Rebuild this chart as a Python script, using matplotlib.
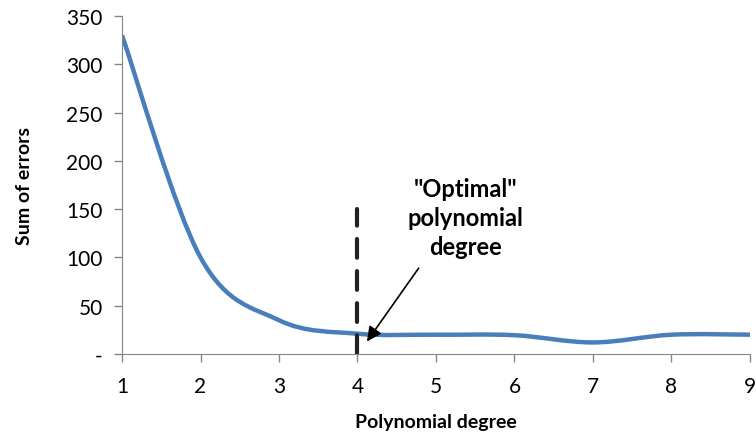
import numpy as np
import matplotlib.pyplot as plt
from matplotlib.path import Path
from matplotlib.patches import PathPatch

degree = [1, 2, 3, 4, 5, 6, 7, 8, 9]
errors = [330, 100, 35, 21, 20, 19.5, 12, 20, 20]
y_ticks = [0, 50, 100, 150, 200, 250, 300, 350]
y_labels = ['-', '50', '100', '150', '200', '250', '300', '350']
optimal = 4
marker_top = 150

plt.rcParams['font.family'] = ['Lato', 'DejaVu Sans']

fig = plt.figure(figsize=(7.56, 4.39), dpi=100)
ax = fig.add_axes([0.1614, 0.1913, 0.8306, 0.77])

# smoothed line (Excel-like bezier through the points)
x = np.array(degree, dtype=float)
y = np.array(errors, dtype=float)
n = len(x)
verts = [(x[0], y[0])]
codes = [Path.MOVETO]
for i in range(n - 1):
    p0 = np.array([x[max(i - 1, 0)], y[max(i - 1, 0)]])
    p1 = np.array([x[i], y[i]])
    p2 = np.array([x[i + 1], y[i + 1]])
    p3 = np.array([x[min(i + 2, n - 1)], y[min(i + 2, n - 1)]])
    c1 = p1 + (p2 - p0) / 6
    c2 = p2 - (p3 - p1) / 6
    verts += [tuple(c1), tuple(c2), tuple(p2)]
    codes += [Path.CURVE4] * 3
ax.add_patch(PathPatch(Path(verts, codes), fill=False, edgecolor='#4A7EBB',
                       linewidth=3.2, capstyle='butt', joinstyle='round'))

ax.plot([optimal, optimal], [0, marker_top], color='#222222', linewidth=3,
        linestyle=(0, (4.5, 3.2)), dash_capstyle='round', solid_capstyle='round')

ax.text(5.38, 183, '"Optimal"\npolynomial\ndegree', ha='center', va='top',
        fontsize=17, fontweight='bold', linespacing=1.3)
ax.annotate('', xy=(4.12, 13), xytext=(4.78, 89),
            arrowprops=dict(arrowstyle='-|>', color='black', lw=1.2,
                            mutation_scale=22, shrinkA=0, shrinkB=0))

ax.set_xlim(1, 9)
ax.set_ylim(0, 350)
ax.set_xticks(degree)
ax.set_yticks(y_ticks)
ax.set_yticklabels(y_labels)
ax.tick_params(axis='both', labelsize=15, direction='out', length=6,
               color='#868686', width=1)
ax.tick_params(axis='x', pad=10)
ax.tick_params(axis='y', pad=8)
for side in ['top', 'right']:
    ax.spines[side].set_visible(False)
for side in ['left', 'bottom']:
    ax.spines[side].set_color('#868686')
ax.set_xlabel('Polynomial degree', fontsize=14, fontweight='bold', labelpad=12)
ax.set_ylabel('Sum of errors', fontsize=14, fontweight='bold', labelpad=24)

fig.savefig('out.png', dpi=100)
